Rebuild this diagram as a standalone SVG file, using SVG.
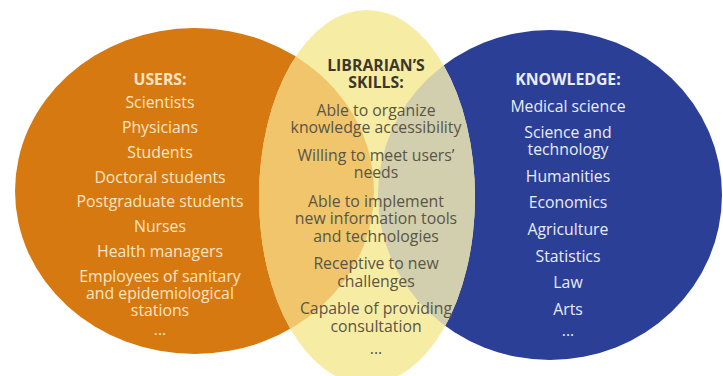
<svg xmlns="http://www.w3.org/2000/svg" width="723" height="376" viewBox="0 0 723 376">
<defs>
<style>
text{font-family:"Open Sans","Liberation Sans",sans-serif;font-size:15.8px;text-anchor:middle}
.h{font-weight:700;font-size:15.8px}
.u{fill:#fde4c2}
.k{fill:#e9ecf8}
.s{fill:#5a5545}
.sh{fill:#3b372c}
</style>
<clipPath id="yc"><ellipse cx="367" cy="197" rx="108" ry="187"/></clipPath>
</defs>
<rect width="723" height="376" fill="#ffffff"/>
<g id="users">
<ellipse cx="194.5" cy="191" rx="179.5" ry="163" fill="#d67911"/>
</g>
<g id="knowledge">
<ellipse cx="550" cy="195" rx="172" ry="165" fill="#2b3f96"/>
</g>
<g id="skills">
<ellipse cx="367" cy="197" rx="108" ry="187" fill="#f7eca4"/>
<g clip-path="url(#yc)">
<ellipse cx="194.5" cy="191" rx="179.5" ry="163" fill="#f0c56c"/>
<ellipse cx="550" cy="195" rx="172" ry="165" fill="#d2cfae"/>
</g>
</g>
<g id="users-text">
<text class="u h" x="160" y="85">USERS:</text>
<text class="u" x="160" y="108">Scientists</text>
<text class="u" x="160" y="133">Physicians</text>
<text class="u" x="160" y="158">Students</text>
<text class="u" x="160" y="183">Doctoral students</text>
<text class="u" x="160" y="207">Postgraduate students</text>
<text class="u" x="160" y="232">Nurses</text>
<text class="u" x="160" y="257">Health managers</text>
<text class="u" x="160" y="282">Employees of sanitary</text>
<text class="u" x="160" y="299">and epidemiological</text>
<text class="u" x="160" y="316">stations</text>
<text class="u" x="160" y="335">...</text>
</g>
<g id="skills-text">
<text class="sh h" x="376" y="71">LIBRARIAN’S</text>
<text class="sh h" x="376" y="88">SKILLS:</text>
<text class="s" x="376" y="116">Able to organize</text>
<text class="s" x="376" y="133">knowledge accessibility</text>
<text class="s" x="376" y="161">Willing to meet users’</text>
<text class="s" x="376" y="178">needs</text>
<text class="s" x="376" y="207">Able to implement</text>
<text class="s" x="376" y="224">new information tools</text>
<text class="s" x="376" y="242">and technologies</text>
<text class="s" x="376" y="269">Receptive to new</text>
<text class="s" x="376" y="287">challenges</text>
<text class="s" x="376" y="314">Capable of providing</text>
<text class="s" x="376" y="332">consultation</text>
<text class="s" x="376" y="354">...</text>
</g>
<g id="knowledge-text">
<text class="k h" x="568" y="85">KNOWLEDGE:</text>
<text class="k" x="568" y="112">Medical science</text>
<text class="k" x="568" y="138">Science and</text>
<text class="k" x="568" y="155">technology</text>
<text class="k" x="568" y="182">Humanities</text>
<text class="k" x="568" y="208">Economics</text>
<text class="k" x="568" y="235">Agriculture</text>
<text class="k" x="568" y="262">Statistics</text>
<text class="k" x="568" y="288">Law</text>
<text class="k" x="568" y="315">Arts</text>
<text class="k" x="568" y="336">...</text>
</g>
</svg>
